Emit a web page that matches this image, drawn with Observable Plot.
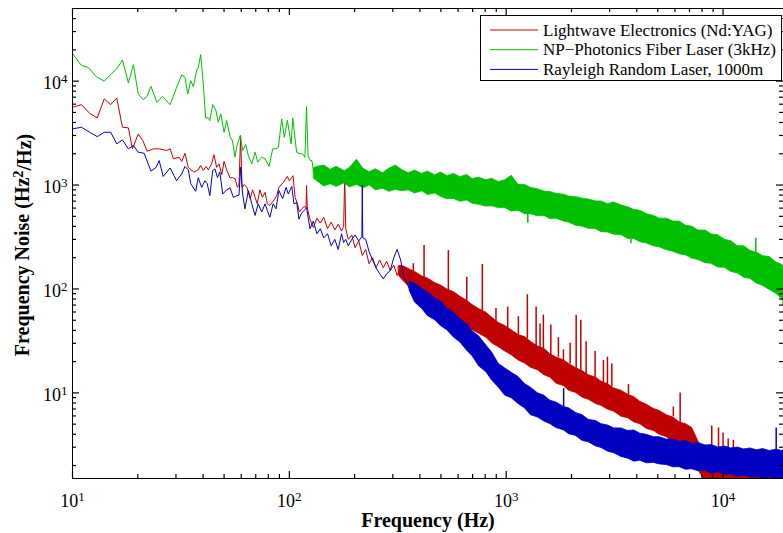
<!DOCTYPE html>
<html><head><meta charset="utf-8">
<script src="https://cdn.jsdelivr.net/npm/d3@7"></script>
<script src="https://cdn.jsdelivr.net/npm/@observablehq/plot@0.6"></script>
<style>body{margin:0;background:#fff;} #chart{width:783px;height:533px;}</style>
</head><body><div id="chart"></div>
<script>
const seriesNames = ["Lightwave Electronics (Nd:YAG)", "NP\u2212Photonics Fiber Laser (3kHz)", "Rayleigh Random Laser, 1000m"];
const RED = "#c00000", GREEN = "#00bf00", BLUE = "#0000c0";
const seriesColors = [RED, GREEN, BLUE];
const xTitle = "Frequency (Hz)";
const yTitleParts = ["Frequency Noise (Hz", "2", "/Hz)"];

const xMajor = [10, 100, 1000, 10000];
const xMajorExp = ["1", "2", "3", "4"];
const yMajor = [10, 100, 1000, 10000];
const yMajorExp = ["1", "2", "3", "4"];
const xMinor = [20,30,40,50,60,70,80,90,200,300,400,500,600,700,800,900,2000,3000,4000,5000,6000,7000,8000,9000];
const yMinor = [2,3,4,5,6,7,8,9,20,30,40,50,60,70,80,90,200,300,400,500,600,700,800,900,2000,3000,4000,5000,6000,7000,8000,9000,20000,30000,40000];

// [frequency Hz, noise Hz^2/Hz]
const redLine = [[10,5600],[11,5940],[12,4900],[13,4430],[14,6740],[15,5940],[16,6890],[17,3600],[18.1,3550],[18.9,2230],[20.1,3100],[21.1,2680],[22.1,2110],[23.6,2230],[25.1,2230],[27.2,2150],[28.2,2230],[29.2,1790],[31,1850],[31.9,1690],[33,2020],[34.2,1480],[36.3,1330],[38,1400],[39,1540],[40.1,1380],[41.3,1510],[42.3,1400],[43.8,1600],[44.9,1960],[46.2,1480],[47.4,1600],[48.8,1260],[50,1690],[51.4,1400],[53.3,1170],[54.6,1180],[56.2,1150],[57.6,950],[58.6,1000],[59.6,2990],[60.5,950],[62,1010],[63.7,950],[66,740],[67.7,900],[69.5,760],[71.1,660],[73.1,900],[75.1,760],[77.3,850],[79.1,660],[81.3,635],[84.2,700],[87.5,790],[89.5,950],[93.8,1060],[97.9,1210],[100,1100],[102.6,1180],[104,1230],[106.3,760],[109,660],[111.2,550],[114,590],[117,620],[119.4,610],[120,990],[121,600],[124.5,470],[129,390],[134,480],[139,430],[144,490],[150,380],[156,440],[162,370],[168,420],[174,360],[178,400],[180,1200],[182,380],[187,300],[194,330],[201,250],[209,290],[217,210],[225,240],[233,175],[242,200],[251,160],[261,190],[271,160],[281,185],[292,150],[303,170],[314,135],[326,160],[338,125],[351,150],[364,118],[378,140],[392,110],[407,128]];
const greenLine = [[10,18500],[11,14100],[11.8,13600],[12.9,11000],[14,10000],[15.2,11900],[16,13100],[17,16000],[18.1,9600],[19.1,14400],[20.1,7530],[21.2,6640],[22.1,7140],[23,8910],[24.5,6250],[26,7100],[28.2,5940],[30,8410],[31.9,11470],[33,10880],[34,7540],[35.1,10100],[36.1,8860],[37.4,12800],[38,13400],[39,18000],[40.1,9400],[41.1,4430],[42.3,4430],[43,4170],[44.3,5940],[45.9,5200],[47,4020],[48.3,4840],[50,3220],[51.4,4170],[53.3,2925],[54.6,2680],[56.2,1850],[57.1,2310],[59.3,2990],[60.9,2150],[62.9,2450],[64.7,1920],[67.1,1600],[69.5,2070],[71.5,1660],[74.6,1850],[77.3,1790],[80.6,1510],[83.8,2230],[86.8,2230],[89,2310],[92.2,4330],[94.8,2880],[97.9,4200],[101.9,2490],[103.7,4430],[108,2070],[112,2000],[115,2000],[118,1850],[120,5690],[122,1900],[125,1720],[127,1720],[130,1280],[133,1500],[136,1250]];
const blueLine = [[10,3470],[11,3600],[12,3220],[13,2925],[14,3220],[15,3220],[16,2490],[17,2720],[18.1,2230],[19.1,2400],[20.1,2070],[21.4,2020],[23,1360],[24.3,1480],[25.1,1720],[26.2,1210],[28.2,1460],[30.2,1100],[31.9,1280],[33,1510],[34.2,1400],[35.1,1030],[37,870],[38,1180],[39.4,950],[40.8,1100],[41.8,1030],[43,790],[44.3,1380],[45.4,1430],[46.6,1180],[47.8,1330],[49.3,820],[51.4,900],[53.3,940],[55.2,760],[57.1,790],[58.6,800],[59.6,1480],[60.9,820],[62.4,590],[64.7,885],[67.1,660],[69.5,510],[71.8,660],[74.6,550],[77.3,660],[79.1,570],[81.3,490],[84.2,660],[86.8,590],[89.5,885],[93.1,740],[96.6,950],[98.9,820],[102.6,970],[105,660],[108.2,680],[110.7,470],[114,540],[118,580],[120,610],[124.5,380],[129,450],[134,340],[139,380],[144,310],[150,340],[156,260],[162,300],[168,240],[174,340],[178,280],[182,300],[187,260],[194,300],[201,330],[209,290],[216,320],[217,1000],[218,310],[225,300],[233,230],[242,190],[251,160],[261,140],[271,125],[281,140],[292,150],[303,200],[314,240],[326,190],[338,130],[351,110],[364,90],[378,85],[392,78],[407,72]];

// dense high-frequency part: [frequency, low edge, high edge]
const redBand = [[320,135,165],[330,124,168],[355,106,156],[380,93,146],[410,86,132],[435,79,126],[470,72,114],[500,66,108],[535,59,99],[575,54,93],[615,50,84],[660,43,77],[700,40,70],[750,37,64],[810,34,59],[860,30,53],[925,27.5,47],[990,25,44],[1060,23,40],[1140,20.5,36],[1220,19.2,34.5],[1300,17.5,31],[1400,16.5,28],[1500,14.8,26.5],[1600,14,23.5],[1700,12.3,22],[1850,11.6,20.5],[1950,10.5,19],[2100,10,17.3],[2250,9,16.2],[2400,8.6,14.8],[2600,7.8,14],[2750,7.5,12.8],[2950,6.9,12.1],[3150,6.6,11],[3400,5.9,10.5],[3650,5.7,9.6],[3900,5.2,9.1],[4150,5.0,8.2],[4450,4.5,7.7],[4800,4.3,7.0],[5100,3.95,6.7],[5500,3.75,6.1],[5900,3.35,5.8],[6300,3.25,5.2],[6750,2.95,5.0],[7200,2.75,4.6],[7700,1.8,3.4],[8300,1.4,2.3],[8850,1.3,2.0],[9500,1.3,1.85],[10200,1.3,1.75],[10900,1.3,1.7],[12500,1.3,1.65],[15300,1.3,1.6],[19000,1.3,1.6]];
const greenBand = [[130,1150,1450],[135,1080,1500],[145,970,1540],[155,1020,1400],[165,960,1500],[180,1040,1360],[190,950,1460],[205,1000,1750],[220,930,1430],[235,990,1330],[250,890,1420],[270,920,1300],[290,860,1440],[310,900,1540],[330,870,1400],[355,890,1300],[380,830,1380],[410,870,1280],[435,800,1350],[470,830,1240],[500,770,1320],[535,730,1220],[575,735,1280],[615,690,1190],[660,710,1250],[700,660,1140],[750,645,1180],[810,620,1110],[860,625,1150],[925,600,1070],[990,600,1110],[1060,555,1230],[1140,565,1000],[1220,525,1000],[1300,525,940],[1400,500,910],[1500,505,865],[1600,470,855],[1700,475,825],[1850,445,805],[1950,435,775],[2100,405,765],[2250,398,740],[2400,380,725],[2600,375,695],[2750,352,695],[2950,350,655],[3150,332,680],[3400,330,635],[3650,302,610],[3900,302,575],[4150,282,565],[4450,274,525],[4800,257,505],[5100,252,475],[5500,236,475],[5900,228,445],[6300,216,445],[6750,210,405],[7200,196,398],[7700,190,365],[8300,177,365],[8850,175,335],[9500,161,328],[10200,160,298],[10900,146,288],[11700,141,258],[12500,128,258],[13400,125,232],[14300,113,224],[15300,107,207],[16400,98,203],[17600,90,180],[18800,79,170],[19000,80,160]];
const blueBand = [[360,95,118],[380,74,112],[410,64,100],[435,55,93],[470,50,81],[500,44,76],[535,40,65],[575,34,59],[615,30.5,51],[660,25.5,46],[700,22.5,39],[750,18,35],[810,15.8,28.5],[860,13.2,24.5],[925,11.2,19],[990,9.4,17.2],[1060,8.9,15.6],[1140,7.8,14.2],[1220,7.1,12.2],[1300,6.1,11.2],[1400,5.8,9.9],[1500,5.3,9.4],[1600,5.0,8.4],[1700,4.6,8.1],[1850,4.35,7.3],[1950,4.0,7.1],[2100,3.85,6.4],[2250,3.45,6.1],[2400,3.35,5.5],[2600,3.05,5.35],[2750,2.95,5.0],[2950,2.72,4.85],[3150,2.62,4.55],[3400,2.42,4.55],[3650,2.33,4.3],[3900,2.18,4.35],[4150,2.22,4.05],[4450,2.1,3.95],[4800,2.12,3.75],[5100,2.05,3.75],[5500,2.02,3.55],[5900,1.92,3.55],[6300,1.93,3.38],[6750,1.82,3.45],[7200,1.84,3.22],[7700,1.76,3.3],[8300,1.78,3.12],[8850,1.67,3.15],[9500,1.72,2.98],[10200,1.62,3.05],[10900,1.64,2.92],[11700,1.56,2.98],[12500,1.6,2.86],[13400,1.53,2.92],[14300,1.56,2.8],[15300,1.5,2.88],[16400,1.54,2.76],[17600,1.48,2.84],[18800,1.51,2.76],[19000,1.5,2.8]];

// isolated spikes: [frequency, from, to]
const redSpikes = [[373,140,175],[418,128,262],[541,97,234],[658,76,130],[776,60,172],[897,48,65],[1016,42,67],[1138,36,54],[1252,33,88],[1374,28,67],[1433,27,46],[1484,26,56],[1606,23,45],[1741,22,34],[1836,20,26],[1972,19,30],[2102,17,56],[2208,16.5,50],[2337,15,31],[2570,14,25],[2808,12.5,20.5],[2930,12,22],[3070,11.5,19],[3662,9.5,12],[5900,5.9,7.3],[6340,5.1,10],[8870,1.9,4.8],[9530,1.8,4.6],[10000,1.75,4.1],[10560,1.7,3.6],[11160,1.7,3.5]];
const greenSpikes = [[1258,560,430],[3760,300,272],[14160,225,307],[18900,90,69]];
const blueSpikes = [[1840,7.3,11],[17580,2.8,4.6]];

const expLabel = (ticks, exps) => d => "10^" + exps[ticks.indexOf(d)];
const X = d => d[0];
const ident = d => d;
// frame is 711 x 470 px; ticks are drawn inward from each edge
const PW = 711, PH = 470;

const chart = Plot.plot({
  width: 783, height: 533,
  marginLeft: 72, marginRight: 0, marginTop: 8, marginBottom: 55,
  style: {fontFamily: "'Liberation Serif', 'Times New Roman', serif", fontSize: "18px", background: "white", color: "black"},
  x: {type: "log", domain: [10, 19000]},
  y: {type: "log", domain: [1.5, 50000]},
  marks: [
    Plot.line(redLine, {x: X, y: d => d[1], stroke: RED, strokeWidth: 1, clip: true}),
    Plot.areaY(redBand, {x: X, y1: d => d[1], y2: d => d[2], fill: RED, stroke: RED, strokeWidth: 0.8, clip: true}),
    Plot.ruleX(redSpikes, {x: X, y1: d => d[1], y2: d => d[2], stroke: RED, strokeWidth: 1.5, clip: true}),
    Plot.line(greenLine, {x: X, y: d => d[1], stroke: GREEN, strokeWidth: 1, clip: true}),
    Plot.areaY(greenBand, {x: X, y1: d => d[1], y2: d => d[2], fill: GREEN, stroke: GREEN, strokeWidth: 0.8, clip: true}),
    Plot.ruleX(greenSpikes, {x: X, y1: d => d[1], y2: d => d[2], stroke: GREEN, strokeWidth: 1.5, clip: true}),
    Plot.line(blueLine, {x: X, y: d => d[1], stroke: BLUE, strokeWidth: 1, clip: true}),
    Plot.areaY(blueBand, {x: X, y1: d => d[1], y2: d => d[2], fill: BLUE, stroke: BLUE, strokeWidth: 0.8, clip: true}),
    Plot.ruleX(blueSpikes, {x: X, y1: d => d[1], y2: d => d[2], stroke: BLUE, strokeWidth: 1.5, clip: true}),
    Plot.frame({stroke: "black", strokeWidth: 1}),
    // inward ticks
    Plot.tickX(xMajor, {x: ident, insetTop: PH - 7, stroke: "black", strokeWidth: 1.2}),
    Plot.tickX(xMinor, {x: ident, insetTop: PH - 4, stroke: "black", strokeWidth: 1.2}),
    Plot.tickX(xMajor, {x: ident, insetBottom: PH - 7, stroke: "black", strokeWidth: 1.2}),
    Plot.tickX(xMinor, {x: ident, insetBottom: PH - 4, stroke: "black", strokeWidth: 1.2}),
    Plot.tickY(yMajor, {y: ident, insetRight: PW - 7, stroke: "black", strokeWidth: 1.2}),
    Plot.tickY(yMinor, {y: ident, insetRight: PW - 4, stroke: "black", strokeWidth: 1.2}),
    Plot.tickY(yMajor, {y: ident, insetLeft: PW - 7, stroke: "black", strokeWidth: 1.2}),
    Plot.tickY(yMinor, {y: ident, insetLeft: PW - 4, stroke: "black", strokeWidth: 1.2}),
    Plot.axisX({anchor: "bottom", ticks: xMajor, tickSize: 0, tickPadding: 16, tickFormat: expLabel(xMajor, xMajorExp), label: null}),
    Plot.axisY({anchor: "left", ticks: yMajor, tickSize: 0, tickPadding: 5, dy: 2, tickFormat: expLabel(yMajor, yMajorExp), label: null})
  ]
});

// superscripts on tick labels
chart.querySelectorAll("text").forEach(t => {
  const s = t.textContent;
  if (!s.includes("^")) return;
  const [b, e] = s.split("^");
  t.textContent = b;
  const ts = document.createElementNS("http://www.w3.org/2000/svg", "tspan");
  ts.setAttribute("dy", "-0.45em");
  ts.setAttribute("font-size", "0.72em");
  ts.textContent = e;
  t.appendChild(ts);
});

const svg = d3.select(chart);
svg.append("text").attr("x", 428).attr("y", 527).attr("text-anchor", "middle")
  .attr("font-weight", "bold").attr("font-size", 20).attr("fill", "black").text(xTitle);
const yt = svg.append("text").attr("transform", "translate(29,245) rotate(-90)").attr("text-anchor", "middle")
  .attr("font-weight", "bold").attr("font-size", 20).attr("fill", "black");
yt.append("tspan").text(yTitleParts[0]);
yt.append("tspan").attr("dy", "-0.4em").attr("font-size", "0.72em").text(yTitleParts[1]);
yt.append("tspan").attr("dy", "0.4em").text(yTitleParts[2]);

// legend
const lg = svg.append("g").attr("text-anchor", "start");
lg.append("rect").attr("x", 480.5).attr("y", 15.5).attr("width", 301).attr("height", 65)
  .attr("fill", "white").attr("stroke", "black").attr("stroke-width", 1);
seriesNames.forEach((name, i) => {
  const cy = 30 + i * 19.7;
  lg.append("line").attr("x1", 490).attr("x2", 538).attr("y1", cy).attr("y2", cy)
    .attr("stroke", seriesColors[i]).attr("stroke-width", 1);
  lg.append("text").attr("x", 543).attr("y", cy + 5.5).attr("font-size", 17).attr("fill", "black").attr("text-anchor", "start").text(name);
});

document.getElementById("chart").appendChild(chart);
</script>
</body></html>
